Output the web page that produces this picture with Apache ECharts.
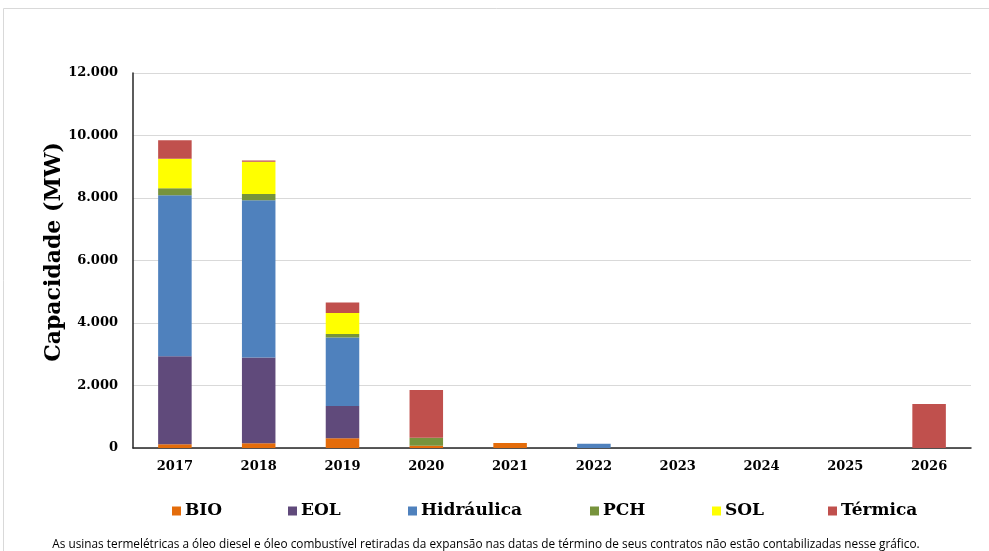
<!DOCTYPE html>
<html>
<head>
<meta charset="utf-8">
<script src="https://cdn.jsdelivr.net/npm/echarts@6/dist/echarts.min.js"></script>
<style>
html,body{margin:0;padding:0;background:#fff;}
#c{width:989px;height:551px;}
</style>
</head>
<body>
<div id="c"></div>
<script>
var years = ['2017','2018','2019','2020','2021','2022','2023','2024','2025','2026'];
var bio        = [120, 150, 310,   70, 160,   0, 0, 0, 0,    0];
var eol        = [2815, 2750, 1035, 0,   0,   0, 0, 0, 0,    0];
var hidraulica = [5150, 5025, 2190, 0,   0, 140, 0, 0, 0,    0];
var pch        = [225, 200, 115,  260,   0,   0, 0, 0, 0,    0];
var sol        = [950, 1035, 670,   0,   0,   0, 0, 0, 0,    0];
var termica    = [585,  40, 335, 1525,   0,   0, 0, 0, 0, 1410];
var seriesNames = ['BIO','EOL','Hidráulica','PCH','SOL','Térmica'];
var seriesData = [bio, eol, hidraulica, pch, sol, termica];
var colors = ['#E46C0A','#604A7B','#4F81BD','#77933C','#FFFF00','#C0504D'];
var legendLeft = [167, 283, 403, 585, 707, 823];
var yTicks = [0, 2000, 4000, 6000, 8000, 10000, 12000];
var footnote = 'As usinas termelétricas a óleo diesel e óleo combustível retiradas da expansão nas datas de término de seus contratos não estão contabilizadas nesse gráfico.';

var chart = echarts.init(document.getElementById('c'));
var serif = '"DejaVu Serif", serif';

var series = seriesNames.map(function(n, i){
  return {
    name: n, type: 'bar', stack: 'total', barWidth: '40%',
    data: seriesData[i].map(function(v){ return v === 0 ? '-' : v; }),
    itemStyle: { color: colors[i] }
  };
});

var legends = seriesNames.map(function(n, i){
  return {
    data: [n], left: legendLeft[i], top: 497, icon: 'rect',
    itemWidth: 9, itemHeight: 9, itemGap: 0,
    selectedMode: false,
    textStyle: { fontFamily: serif, fontWeight: 'bold', fontSize: 17, color: '#000', lineHeight: 18, padding: [0,0,0,-1] }
  };
});

chart.setOption({
  animation: false,
  backgroundColor: '#fff',
  color: colors,
  grid: { left: 133, right: 18, top: 73, bottom: 103, containLabel: false },
  legend: legends,
  xAxis: {
    type: 'category', data: years,
    axisLine: { lineStyle: { color: '#262626', width: 1.5 } },
    axisTick: { show: false },
    axisLabel: { fontFamily: serif, fontWeight: 'bold', fontSize: 13, color: '#000', margin: 12 }
  },
  yAxis: {
    type: 'value', min: 0, max: 12000, interval: 2000,
    axisLine: { show: true, lineStyle: { color: '#262626', width: 1.5 } },
    axisTick: { show: false },
    splitLine: { lineStyle: { color: '#d9d9d9', width: 1 } },
    axisLabel: {
      fontFamily: serif, fontWeight: 'bold', fontSize: 13, color: '#000', margin: 15,
      formatter: function(v){
        return yTicks.indexOf(v) >= 0 ? v.toLocaleString('de-DE') : '';
      }
    }
  },
  graphic: [
    { type: 'rect', shape: { x: 3.5, y: 8.5, width: 1000, height: 600 },
      style: { fill: 'none', stroke: '#d9d9d9', lineWidth: 1 }, silent: true, z: -10 },
    { type: 'text', x: 54, y: 252, rotation: Math.PI/2,
      style: { text: 'Capacidade (MW)', fontFamily: serif, fontWeight: 'bold', fontSize: 22,
               fill: '#000', align: 'center', verticalAlign: 'middle' } },
    { type: 'text', x: 486, y: 545,
      style: { text: footnote, fontFamily: '"Open Sans", sans-serif', fontSize: 11.8,
               fill: '#000', align: 'center', verticalAlign: 'middle' } }
  ],
  series: series
});
</script>
</body>
</html>
